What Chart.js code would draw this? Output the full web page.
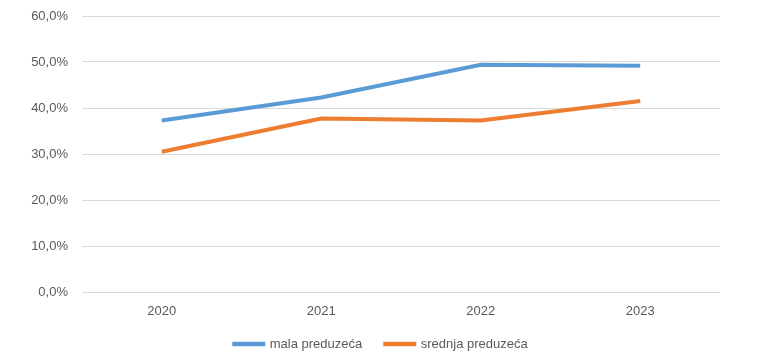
<!DOCTYPE html>
<html>
<head>
<meta charset="utf-8">
<script src="https://cdn.jsdelivr.net/npm/chart.js@4/dist/chart.umd.min.js"></script>
<style>
  html, body { margin: 0; padding: 0; background: #fff; }
  #wrap { width: 770px; height: 362px; }
</style>
</head>
<body>
<div id="wrap"><canvas id="myChart" width="770" height="362"></canvas></div>
<script>
const years = ['2020', '2021', '2022', '2023'];
const mala = [37.3, 42.3, 49.4, 49.2];
const srednja = [30.5, 37.7, 37.3, 41.5];
const yTicks = [0, 10, 20, 30, 40, 50, 60];

// keeps the legend box a fixed height and centres it on the whole canvas
const legendBox = {
    id: 'legendBox',
    afterInit(chart) {
        const lg = chart.legend;
        const fit = lg.fit.bind(lg);
        lg.fit = function() {
            fit();
            this.height = 45;
        };
    },
    afterLayout(chart) {
        const lg = chart.legend;
        lg.left = 0;
        lg.right = 762;
        lg.width = 762;
        lg.top = 314.5;
        lg.bottom = lg.top + 45;
    }
};

document.addEventListener("DOMContentLoaded", function() {
    Chart.defaults.font.family = "'Liberation Sans', 'Open Sans', sans-serif";
    Chart.defaults.font.size = 13;
    Chart.defaults.color = '#595959';

    const ctx = document.getElementById('myChart').getContext('2d');
    new Chart(ctx, {
        type: 'line',
        data: {
            labels: years,
            datasets: [
                {
                    label: 'mala preduzeća',
                    data: mala,
                    borderColor: '#5B9BD5',
                    backgroundColor: '#5B9BD5',
                    borderWidth: 4,
                    pointRadius: 0,
                    tension: 0,
                    fill: false
                },
                {
                    label: 'srednja preduzeća',
                    data: srednja,
                    borderColor: '#ED7D31',
                    backgroundColor: '#ED7D31',
                    borderWidth: 4,
                    pointRadius: 0,
                    tension: 0,
                    fill: false
                }
            ]
        },
        plugins: [legendBox],
        options: {
            responsive: false,
            animation: false,
            layout: { padding: { top: 16, right: 50, bottom: 0, left: 0 } },
            plugins: {
                legend: {
                    position: 'bottom',
                    labels: {
                        boxWidth: 29,
                        boxHeight: 0.5,
                        padding: 23,
                        color: '#595959',
                        font: { size: 13 }
                    }
                },
                tooltip: { enabled: false }
            },
            scales: {
                y: {
                    min: 0,
                    max: 60,
                    afterFit: function(scale) {
                        scale.width = 82;
                        scale.paddingTop = 0;
                        scale.paddingBottom = 0;
                    },
                    afterBuildTicks: function(scale) {
                        scale.ticks = yTicks.map(v => ({ value: v }));
                    },
                    ticks: {
                        padding: 14,
                        callback: v => v.toFixed(1).replace('.', ',') + '%'
                    },
                    grid: { color: '#d9d9d9', lineWidth: 1, drawTicks: false },
                    border: { display: false }
                },
                x: {
                    offset: true,
                    afterFit: function(scale) { scale.height = 25; },
                    grid: { display: false, drawTicks: false },
                    border: { display: false },
                    ticks: { padding: 12 }
                }
            }
        }
    });
});
</script>
</body>
</html>
